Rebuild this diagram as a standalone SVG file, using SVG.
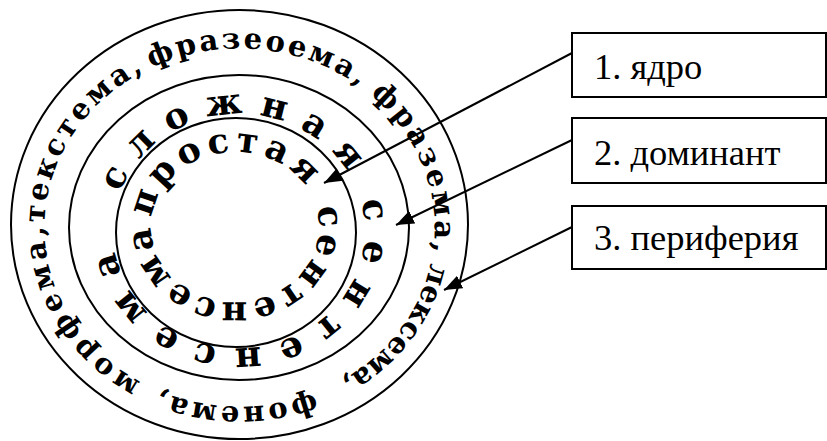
<svg xmlns="http://www.w3.org/2000/svg" xmlns:xlink="http://www.w3.org/1999/xlink" width="827" height="441" viewBox="0 0 827 441">
<style>
.ring{fill:none;stroke:#000;stroke-width:2}
.rt{font-family:"DejaVu Serif","Liberation Serif",serif;font-weight:bold;fill:#000}
.box{fill:#fff;stroke:#000;stroke-width:2}
.bt{font-family:"Liberation Serif","Times New Roman",serif;font-size:36.5px;fill:#000}
.conn{stroke:#000;stroke-width:2;fill:none}
</style>
<defs>
<marker id="ah" markerUnits="userSpaceOnUse" markerWidth="20" markerHeight="14" refX="18" refY="7" orient="auto">
<path d="M0,0 L18,7 L0,14 Z" fill="#000"/>
</marker>
<path id="pOuter" d="M157.09,389.73 A195,179 0 1 1 321.91,65.27 A195,179 0 1 1 157.09,389.73"/>
<path id="pMid" d="M117.29,200.72 A126,117 0 1 1 360.71,261.28 A126,117 0 1 1 117.29,200.72"/>
<path id="pIn" d="M151.32,220.46 A84,75 0 1 1 318.68,233.54 A84,75 0 1 1 151.32,220.46"/>
</defs>
<g id="outer-ring">
<ellipse class="ring" cx="239.5" cy="224.5" rx="228.5" ry="214.5"/>
<text class="rt" font-size="29"><textPath href="#pOuter" xlink:href="#pOuter" startOffset="17.9" textLength="192.7" lengthAdjust="spacing">морфема,</textPath><textPath href="#pOuter" xlink:href="#pOuter" startOffset="213.3" textLength="190.3" lengthAdjust="spacing">текстема,</textPath> <textPath href="#pOuter" xlink:href="#pOuter" startOffset="411.9" textLength="219.1" lengthAdjust="spacing">фразеоема,</textPath> <textPath href="#pOuter" xlink:href="#pOuter" startOffset="643.9" textLength="177.6" lengthAdjust="spacing">фразема,</textPath> <textPath href="#pOuter" xlink:href="#pOuter" startOffset="832.5" textLength="152.3" lengthAdjust="spacing">лексема,</textPath> <textPath href="#pOuter" xlink:href="#pOuter" startOffset="1014.2" textLength="158.9" lengthAdjust="spacing">фонема,</textPath></text>
</g>
<g id="middle-ring">
<ellipse class="ring" cx="239" cy="227.5" rx="170" ry="152.5"/>
<text class="rt" font-size="36"><textPath href="#pMid" xlink:href="#pMid" startOffset="8.7" textLength="279.6" lengthAdjust="spacing">сложная</textPath> <textPath href="#pMid" xlink:href="#pMid" startOffset="320.3" textLength="392" lengthAdjust="spacing">сентенсема</textPath></text>
</g>
<g id="inner-ring">
<ellipse class="ring" cx="236" cy="232.5" rx="120" ry="114.5"/>
<text class="rt" font-size="35"><textPath href="#pIn" xlink:href="#pIn" startOffset="2.6" textLength="197.3" lengthAdjust="spacing">простая</textPath> <textPath href="#pIn" xlink:href="#pIn" startOffset="223.3" textLength="269.8" lengthAdjust="spacing">сентенсема</textPath></text>
</g>
<g id="connectors">
<line class="conn" x1="572" y1="53" x2="324" y2="183" marker-end="url(#ah)"/>
<line class="conn" x1="572" y1="140" x2="396" y2="225" marker-end="url(#ah)"/>
<line class="conn" x1="572" y1="227" x2="444" y2="290" marker-end="url(#ah)"/>
</g>
<g id="box-1">
<rect class="box" x="572" y="33" width="254" height="64"/>
<text class="bt" x="594" y="79">1. ядро</text>
</g>
<g id="box-2">
<rect class="box" x="572" y="118" width="254" height="65"/>
<text class="bt" x="594" y="165">2. доминант</text>
</g>
<g id="box-3">
<rect class="box" x="572" y="206" width="254" height="63"/>
<text class="bt" x="594" y="250">3. периферия</text>
</g>
</svg>
